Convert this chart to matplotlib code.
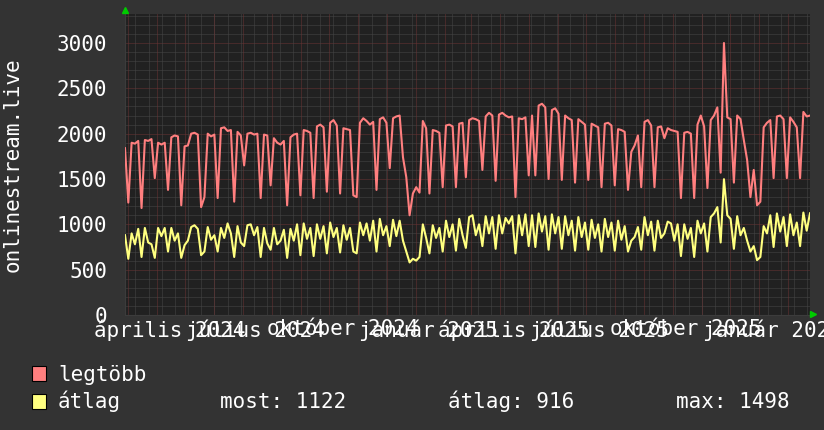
import numpy as np
import matplotlib.pyplot as plt
from matplotlib.patches import Rectangle
from matplotlib.lines import Line2D

# napi adatok, kb. 3,5 naponkent olvasva a kepbol
legtobb = [
    1840, 1240, 1900, 1890, 1920, 1180, 1930, 1920,
    1940, 1510, 1900, 1880, 1900, 1380, 1960, 1980,
    1970, 1210, 1860, 1870, 2000, 2010, 1990, 1190,
    1300, 2000, 1970, 1990, 1290, 2060, 2070, 2030,
    2040, 1250, 2020, 1980, 1650, 2000, 2010, 1990,
    2000, 1290, 1990, 1980, 1430, 1950, 1900, 1880,
    1920, 1210, 1960, 1990, 2000, 1320, 2040, 2030,
    2010, 1290, 2080, 2100, 2070, 1360, 2120, 2150,
    2090, 1340, 2060, 2050, 2040, 1320, 1300, 2120,
    2170, 2140, 2100, 2130, 1380, 2160, 2180, 2120,
    1620, 2170, 2190, 2200, 1740, 1520, 1100, 1340,
    1410, 1350, 2140, 2060, 1340, 2040, 2030, 2010,
    1410, 2090, 2100, 2080, 1410, 2110, 2120, 1520,
    2150, 2170, 2160, 2140, 1600, 2190, 2230, 2200,
    1480, 2210, 2230, 2200, 2180, 2190, 1300, 2170,
    2160, 2180, 1540, 2200, 1540, 2310, 2330, 2290,
    1500, 2260, 2280, 2220, 1490, 2200, 2170, 2150,
    1460, 2160, 2130, 2100, 1490, 2110, 2090, 2070,
    1410, 2110, 2120, 2090, 1430, 2050, 2040, 2020,
    1380, 1800, 1870, 1980, 1410, 2130, 2150, 2090,
    1410, 2070, 2080, 1950, 2060, 2040, 2030, 2020,
    1290, 2010, 2020, 2000, 1290, 2100, 2200, 2080,
    1400, 2150, 2200, 2290, 1570, 3000, 2180, 2160,
    1460, 2200, 2160, 1930, 1710, 1300, 1600, 1210,
    1250, 2070, 2120, 2150, 1510, 2190, 2200, 2160,
    1510, 2180, 2130, 2070, 1510, 2240, 2190, 2200,
]
atlag = [
    880, 620, 900, 780, 950, 640, 960, 800,
    780, 630, 960, 870, 960, 700, 960, 820,
    900, 630, 770, 820, 970, 990, 950, 660,
    700, 970, 830, 880, 700, 960, 850, 1010,
    900, 640, 980, 800, 760, 990, 1000, 880,
    970, 640, 960, 790, 720, 960, 780, 820,
    940, 630, 950, 820, 1000, 660, 1010, 840,
    960, 650, 1000, 840, 980, 680, 1020, 860,
    960, 690, 990, 830, 960, 700, 680, 1020,
    880, 1010, 820, 1040, 700, 1060, 880, 980,
    760, 1050, 870, 1040, 820, 700, 580, 620,
    600, 640, 1000, 850, 680, 990, 850, 960,
    700, 1040, 860, 1000, 710, 1060, 880, 740,
    1080, 1100, 880, 1000, 760, 1090, 900, 1080,
    730, 1100, 900, 1070, 1010, 1090, 680, 1100,
    880, 1110, 760, 1100, 750, 1120, 920, 1090,
    720, 1110, 900, 1080, 730, 1090, 880, 1040,
    710, 1080, 860, 1020, 720, 1050, 850, 1000,
    700, 1060, 860, 1020, 710, 1040, 830, 980,
    700, 820, 860, 970, 720, 1080, 880, 1030,
    710, 1040, 850, 900, 1030, 1010, 820, 1000,
    650, 1000, 840, 960, 640, 1040, 900, 1010,
    700, 1080, 1120, 1190, 800, 1498, 1100, 1060,
    730, 1090, 880, 960, 820, 700, 760, 605,
    640, 980, 900, 1100, 750, 1120, 920, 1080,
    760, 1110, 880, 1020, 760, 1130, 930, 1122,
]

start = np.datetime64('2024-02-27')
span_days = 728

label_months = ['2024-04', '2024-07', '2024-10', '2025-01',
                '2025-04', '2025-07', '2025-10', '2026-01']
label_texts = ['április 2024', 'július 2024', 'október 2024', 'január 2025',
               'április 2025', 'július 2025', 'október 2025', 'január 2026']
stats = ['most: 1122', 'átlag: 916', 'max: 1498']

plt.rcParams['font.family'] = 'DejaVu Sans Mono'
plt.rcParams['font.size'] = 15

W, H = 824, 430
fig = plt.figure(figsize=(W / 100, H / 100), dpi=100, facecolor='#333333')
ax = fig.add_axes([125 / W, 1 - 315 / H, 685 / W, 301 / H])
ax.set_facecolor('#212121')

# racs
minor_c = '#474747'
major_c = '#6b3434'
month_days = (np.arange('2024-03', '2026-03', dtype='datetime64[M]').astype('datetime64[D]') - start).astype(int)
for d in np.arange(11, span_days, 14):
    ax.axvline(d, color=minor_c, lw=0.72, ls=(0, (1, 1)), zorder=1)
for d in month_days:
    ax.axvline(d, color=major_c, lw=0.72, ls=(0, (1, 1)), zorder=1.5)

ax.set_ylim(0, 3320)
ax.set_yticks(range(0, 3001, 500))
ax.set_yticks(range(0, 3301, 100), minor=True)
ax.grid(which='minor', axis='y', color=minor_c, lw=0.72, ls=(0, (1, 1)), zorder=1)
ax.grid(which='major', axis='y', color=major_c, lw=0.72, ls=(0, (1, 1)), zorder=1.5)
ax.set_axisbelow(True)

days = np.linspace(0, span_days, len(legtobb))
ax.plot(days, legtobb, color='#ff7f7f', lw=1.5, zorder=3)
ax.plot(days, atlag, color='#ffff80', lw=1.5, zorder=3)

ax.set_xlim(0, span_days)
label_days = [(np.datetime64(m + '-15') - start).astype(int) for m in label_months]
ax.set_xticks(label_days, label_texts)
ax.tick_params(axis='x', length=0, pad=3, labelcolor='white')
ax.tick_params(axis='y', which='both', length=0, pad=13, labelcolor='white')

for s in ['top', 'right']:
    ax.spines[s].set_visible(False)
for s in ['left', 'bottom']:
    ax.spines[s].set_color('#3c3c3c')

# nyilak
fig.add_artist(Line2D([125.5 / W], [1 - 10 / H], marker='^', ms=5, color='#00cc00', mec='#00cc00'))
fig.add_artist(Line2D([813 / W], [1 - 313.5 / H], marker='>', ms=5, color='#00cc00', mec='#00cc00'))

fig.text(13 / W, 1 - 165 / H, 'onlinestream.live', rotation=90, ha='center', va='center', color='white')

# jelmagyarazat
fig.add_artist(Rectangle((32 / W, 1 - 381 / H), 14 / W, 15 / H, facecolor='#ff7f7f',
                         edgecolor='black', lw=0.8, transform=fig.transFigure))
fig.add_artist(Rectangle((32 / W, 1 - 409 / H), 14 / W, 15 / H, facecolor='#ffff80',
                         edgecolor='black', lw=0.8, transform=fig.transFigure))
fig.text(58 / W, 1 - 381 / H, 'legtöbb', color='white', va='baseline')
fig.text(58 / W, 1 - 408 / H, 'átlag', color='white', va='baseline')
for x, s in zip([220, 448, 676], stats):
    fig.text(x / W, 1 - 408 / H, s, color='white', va='baseline')

fig.savefig('out.png', dpi=100, facecolor=fig.get_facecolor())
